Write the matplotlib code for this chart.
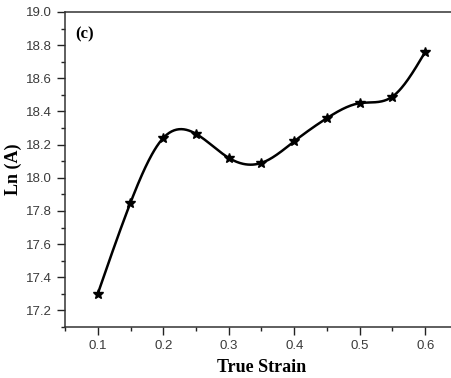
import numpy as np
import matplotlib
matplotlib.use("Agg")
import matplotlib.pyplot as plt
from matplotlib.ticker import MultipleLocator

strain = [0.10, 0.15, 0.20, 0.25, 0.30, 0.35, 0.40, 0.45, 0.50, 0.55, 0.60]
ln_a = [17.30, 17.85, 18.24, 18.265, 18.12, 18.09, 18.22, 18.36, 18.45, 18.49, 18.76]
x_ticks = [0.1, 0.2, 0.3, 0.4, 0.5, 0.6]
y_ticks = [17.2, 17.4, 17.6, 17.8, 18.0, 18.2, 18.4, 18.6, 18.8, 19.0]


def natural_spline(x, y, xs):
    x = np.asarray(x, float); y = np.asarray(y, float)
    n = len(x)
    h = np.diff(x)
    A = np.zeros((n, n)); b = np.zeros(n)
    A[0, 0] = 1; A[-1, -1] = 1
    for i in range(1, n - 1):
        A[i, i - 1] = h[i - 1]
        A[i, i] = 2 * (h[i - 1] + h[i])
        A[i, i + 1] = h[i]
        b[i] = 3 * ((y[i + 1] - y[i]) / h[i] - (y[i] - y[i - 1]) / h[i - 1])
    c = np.linalg.solve(A, b)
    out = np.empty_like(xs)
    for k, xv in enumerate(xs):
        i = min(max(np.searchsorted(x, xv) - 1, 0), n - 2)
        dx = xv - x[i]
        bb = (y[i + 1] - y[i]) / h[i] - h[i] * (2 * c[i] + c[i + 1]) / 3
        d = (c[i + 1] - c[i]) / (3 * h[i])
        out[k] = y[i] + bb * dx + c[i] * dx ** 2 + d * dx ** 3
    return out


W, H = 452, 378
fig = plt.figure(figsize=(W / 100, H / 100), dpi=100)
ax = fig.add_axes([65 / W, 1 - 327 / H, (458 - 65) / W, (327 - 12) / H])

xs = np.linspace(strain[0], strain[-1], 400)
ax.plot(xs, natural_spline(strain, ln_a, xs), color="black", lw=1.8, zorder=2)
ax.plot(strain, ln_a, linestyle="none", marker="*", color="black", ms=7.5, zorder=3)

ax.set_xlim(0.05, 0.65)
ax.set_ylim(17.1, 19.0)
ax.set_xticks(x_ticks)
ax.set_yticks(y_ticks)
ax.set_xticklabels([f"{v:.1f}" for v in x_ticks])
ax.set_yticklabels([f"{v:.1f}" for v in y_ticks])
ax.xaxis.set_minor_locator(MultipleLocator(0.05))
ax.yaxis.set_minor_locator(MultipleLocator(0.1))
ax.tick_params(which="major", direction="out", length=5.5, width=1, colors="#222222",
               labelsize=9.5, labelcolor="#3a3a3a", top=False, right=False, pad=4)
ax.tick_params(which="minor", direction="out", length=3, width=1, colors="#222222",
               top=False, right=False)
for lab in ax.get_xticklabels() + ax.get_yticklabels():
    lab.set_family("Liberation Sans")
for s in ax.spines.values():
    s.set_linewidth(1.1)
    s.set_color("#333333")
ax.spines["right"].set_visible(False)

ax.set_xlabel("True Strain", family="Liberation Serif", fontweight="bold", fontsize=13, labelpad=5)
ax.set_ylabel("Ln (A)", family="Liberation Serif", fontweight="bold", fontsize=13, labelpad=3)
ax.text(0.025, 0.955, "(c)", transform=ax.transAxes, family="Liberation Serif",
        fontweight="bold", fontsize=12, va="top", ha="left")

fig.savefig("out.png", dpi=100)
